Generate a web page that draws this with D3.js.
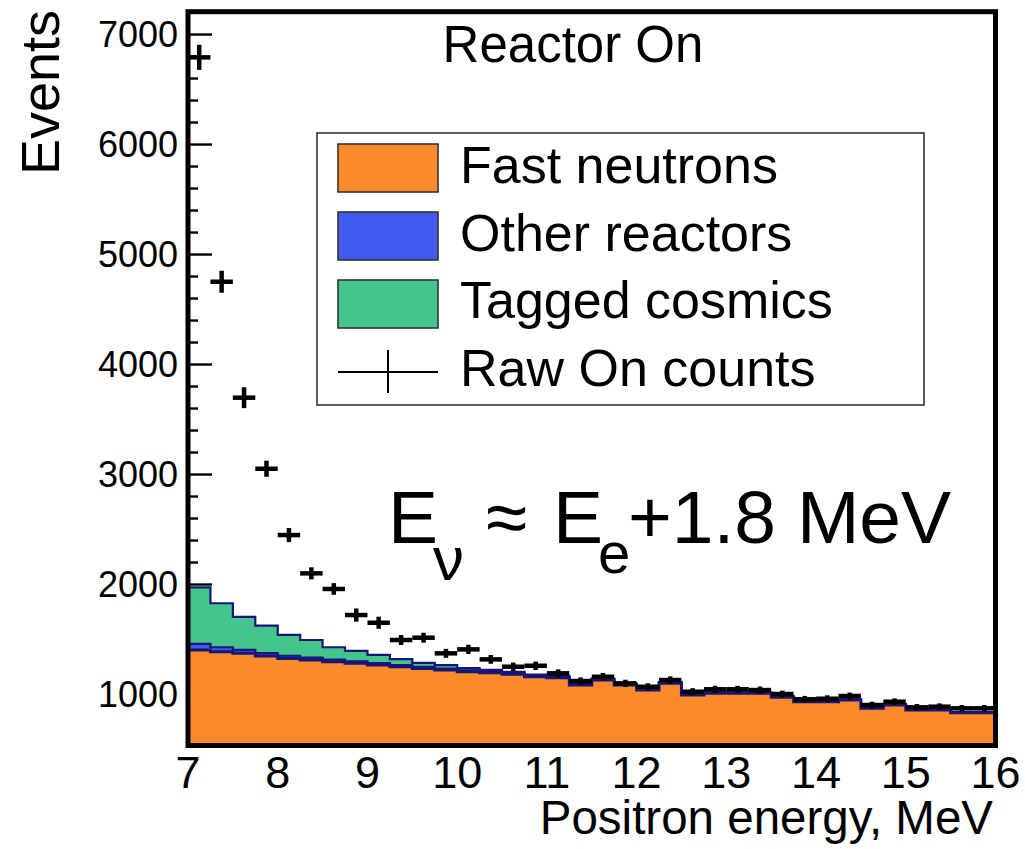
<!DOCTYPE html>
<html>
<head>
<meta charset="utf-8">
<script src="https://cdn.jsdelivr.net/npm/d3@7"></script>
<style>
  body { margin: 0; background: #fff; }
  svg text { font-family: "Liberation Sans", Arial, Helvetica, sans-serif; fill: #000; }
</style>
</head>
<body>
<div id="chart"></div>
<script>
// bin edges (positron energy, MeV), 0.25 MeV bins
var binEdges = [7, 7.25, 7.5, 7.75, 8, 8.25, 8.5, 8.75, 9, 9.25, 9.5, 9.75,
  10, 10.25, 10.5, 10.75, 11, 11.25, 11.5, 11.75, 12, 12.25, 12.5, 12.75,
  13, 13.25, 13.5, 13.75, 14, 14.25, 14.5, 14.75, 15, 15.25, 15.5, 15.75, 16];

// stacked backgrounds (events per bin)
var fastNeutrons = [1400, 1385, 1370, 1345, 1324, 1309, 1294, 1279, 1264, 1248, 1233, 1218,
  1203, 1194, 1179, 1157, 1148, 1082, 1127, 1082, 1036, 1097, 991, 1006,
  1006, 1006, 970, 930, 930, 945, 870, 900, 855, 855, 830, 830];
var otherReactors = [55, 40, 32, 27, 24, 22, 19, 17, 16, 15, 14, 13,
  12, 11, 10, 10, 9, 9, 8, 8, 7, 7, 6, 6,
  6, 5, 5, 5, 5, 4, 4, 4, 4, 4, 3, 3];
var taggedCosmics = [515, 400, 300, 250, 190, 160, 112, 97, 76, 54, 37, 31,
  20, 15, 12, 10, 8, 7, 6, 5, 5, 4, 4, 4,
  3, 3, 3, 3, 3, 2, 2, 2, 2, 2, 2, 2];

// raw reactor-on counts and their errors
var rawCounts = [6788, 4748, 3694, 3048, 2445, 2097, 1955, 1718, 1648, 1491, 1512, 1370,
  1406, 1315, 1248, 1257, 1188, 1118, 1157, 1097, 1066, 1127, 1021, 1043,
  1043, 1036, 1000, 952, 957, 982, 900, 930, 879, 885, 870, 870];
var rawErrors = [114, 100, 95, 73, 64, 55, 53, 60, 55, 45, 45, 41,
  42, 40, 38, 38, 36, 33, 34, 33, 32, 33, 32, 32,
  32, 32, 31, 31, 31, 31, 30, 30, 30, 30, 30, 30];

var xTicks = [7, 8, 9, 10, 11, 12, 13, 14, 15, 16];
var yTicks = [1000, 2000, 3000, 4000, 5000, 6000, 7000];
var yMinorTicks = [600, 800, 1200, 1400, 1600, 1800, 2200, 2400, 2600, 2800, 3200, 3400, 3600, 3800,
  4200, 4400, 4600, 4800, 5200, 5400, 5600, 5800, 6200, 6400, 6600, 6800, 7200];
var legendLabels = ["Fast neutrons", "Other reactors", "Tagged cosmics", "Raw On counts"];

function drawChart() {
  var width = 1025, height = 849;
  var plotLeft = 188, plotRight = 995.5, plotTop = 11.7, plotBottom = 745.5;
  var yMin = 532, yMax = 7203;

  var colors = { fast: "#fc8a2a", other: "#4159ef", cosmic: "#44c58a", line: "#16167a" };

  var svg = d3.select("#chart").append("svg")
    .attr("width", width)
    .attr("height", height);

  var x = d3.scaleLinear().domain([7, 16]).range([plotLeft, plotRight]);
  var y = d3.scaleLinear().domain([yMin, yMax]).range([plotBottom, plotTop]);

  // y ticks on the inside of the frame (ROOT style), drawn first so the fill hides the low ones
  var minorAxis = svg.append("g")
    .attr("transform", "translate(" + plotLeft + ",0)")
    .call(d3.axisRight(y).tickValues(yMinorTicks).tickSize(10).tickFormat(""));
  var majorAxis = svg.append("g")
    .attr("transform", "translate(" + plotLeft + ",0)")
    .call(d3.axisRight(y).tickValues(yTicks).tickSize(24).tickFormat(""));
  [minorAxis, majorAxis].forEach(function (g) {
    g.select(".domain").remove();
    g.selectAll(".tick line").attr("stroke", "#000").attr("stroke-width", 2.4);
  });

  // stacked histograms
  var bins = fastNeutrons.map(function (v, i) {
    return { lo: binEdges[i], hi: binEdges[i + 1], fast: v, other: otherReactors[i], cosmic: taggedCosmics[i] };
  });
  var layers = d3.stack().keys(["fast", "other", "cosmic"])(bins);

  function stepPoints(layer) {
    var pts = [];
    layer.forEach(function (d) {
      pts.push({ x: d.data.lo, y1: d[1] });
      pts.push({ x: d.data.hi, y1: d[1] });
    });
    return pts;
  }

  var area = d3.area()
    .x(d => x(d.x))
    .y0(plotBottom)
    .y1(d => y(d.y1));
  var topLine = d3.line()
    .x(d => x(d.x))
    .y(d => y(d.y1));

  var layerColor = { fast: colors.fast, other: colors.other, cosmic: colors.cosmic };

  // draw from the top of the stack down, like ROOT's THStack
  layers.slice().reverse().forEach(function (layer) {
    var steps = stepPoints(layer);
    svg.append("path")
      .attr("d", area(steps))
      .attr("fill", layerColor[layer.key]);
    svg.append("path")
      .attr("d", topLine(steps))
      .attr("fill", "none")
      .attr("stroke", colors.line)
      .attr("stroke-width", layer.key == "fast" ? 3 : 2.2);
  });

  // data crosses
  var pts = rawCounts.map((v, i) => ({ lo: binEdges[i], hi: binEdges[i + 1], v: v, e: rawErrors[i] }));
  var cross = svg.append("g");
  cross.selectAll("line.h").data(pts).enter().append("line")
    .attr("class", "h")
    .attr("x1", d => x(d.lo)).attr("x2", d => x(d.hi))
    .attr("y1", d => y(d.v)).attr("y2", d => y(d.v))
    .attr("stroke", "#000").attr("stroke-width", 4.5);
  cross.selectAll("line.v").data(pts).enter().append("line")
    .attr("class", "v")
    .attr("x1", d => x((d.lo + d.hi) / 2)).attr("x2", d => x((d.lo + d.hi) / 2))
    .attr("y1", d => y(d.v - d.e)).attr("y2", d => y(d.v + d.e))
    .attr("stroke", "#000").attr("stroke-width", 4.5);

  // frame
  svg.append("rect")
    .attr("x", plotLeft).attr("y", plotTop)
    .attr("width", plotRight - plotLeft).attr("height", plotBottom - plotTop)
    .attr("fill", "none").attr("stroke", "#000").attr("stroke-width", 5);

  // tick labels
  svg.append("g").selectAll("text")
    .data(yTicks).enter().append("text")
    .attr("x", 178).attr("y", d => y(d) + 12.5)
    .attr("text-anchor", "end")
    .style("font-size", "36px")
    .text(d => d);
  svg.append("g").selectAll("text")
    .data(xTicks).enter().append("text")
    .attr("x", d => x(d)).attr("y", 788)
    .attr("text-anchor", "middle")
    .style("font-size", "45px")
    .text(d => d);

  // axis titles
  svg.append("text")
    .attr("transform", "translate(59,10) rotate(-90)")
    .attr("text-anchor", "end")
    .style("font-size", "54px")
    .text("Events");
  svg.append("text")
    .attr("x", 993).attr("y", 834)
    .attr("text-anchor", "end")
    .style("font-size", "47.5px")
    .text("Positron energy, MeV");

  // title inside frame
  svg.append("text")
    .attr("x", 573).attr("y", 62)
    .attr("text-anchor", "middle")
    .style("font-size", "51px")
    .text("Reactor On");

  // legend
  var lg = svg.append("g");
  lg.append("rect")
    .attr("x", 317).attr("y", 133).attr("width", 607).attr("height", 272)
    .attr("fill", "#fff").attr("stroke", "#333").attr("stroke-width", 1.6);
  var swatch = [colors.fast, colors.other, colors.cosmic];
  var rowY = [144, 212, 280];
  swatch.forEach(function (c, i) {
    lg.append("rect")
      .attr("x", 338).attr("y", rowY[i]).attr("width", 100).attr("height", 48)
      .attr("fill", c).attr("stroke", "#333").attr("stroke-width", 1.6);
  });
  lg.append("line").attr("x1", 338).attr("x2", 438).attr("y1", 372).attr("y2", 372)
    .attr("stroke", "#000").attr("stroke-width", 2);
  lg.append("line").attr("x1", 388).attr("x2", 388).attr("y1", 350).attr("y2", 393)
    .attr("stroke", "#000").attr("stroke-width", 2);
  var textY = [183, 251, 318, 386];
  legendLabels.forEach(function (t, i) {
    lg.append("text")
      .attr("x", 460).attr("y", textY[i])
      .style("font-size", "52px")
      .text(t);
  });

  // annotation
  var ann = svg.append("g");
  ann.append("text").attr("x", 388).attr("y", 543).style("font-size", "75px").text("E");
  ann.append("text").attr("x", 433).attr("y", 580).style("font-size", "62px").text("ν");
  ann.append("text").attr("x", 486).attr("y", 543).style("font-size", "75px").text("≈");
  ann.append("text").attr("x", 553).attr("y", 543).style("font-size", "75px").text("E");
  ann.append("text").attr("x", 598).attr("y", 573).style("font-size", "58px").text("e");
  ann.append("text").attr("x", 628).attr("y", 543).style("font-size", "75px").text("+1.8 MeV");
}

drawChart();
</script>
</body>
</html>
